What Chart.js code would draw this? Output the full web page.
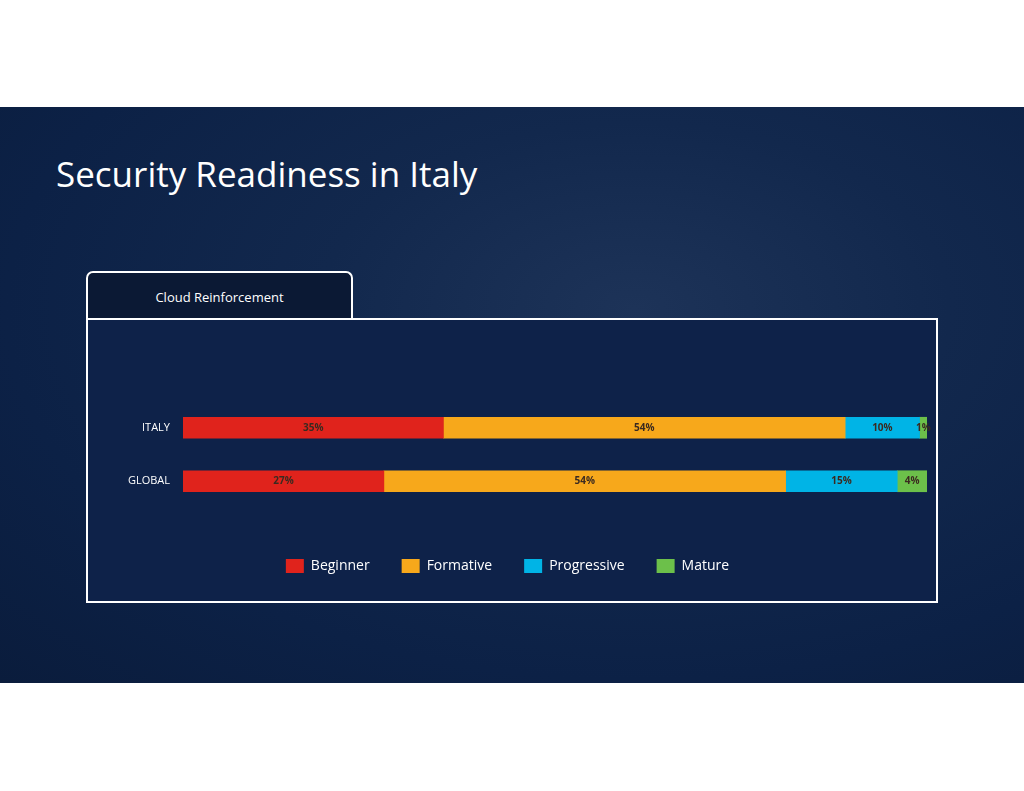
<!DOCTYPE html>
<html>
<head>
<meta charset="utf-8">
<script src="https://cdn.jsdelivr.net/npm/chart.js@4/dist/chart.umd.min.js"></script>
<style>
  body { margin: 0; width: 1024px; height: 791px; background: #fff; position: relative; overflow: hidden; font-family: "Open Sans", "Noto Sans", sans-serif; }
  .band { position: absolute; left: 0; top: 107px; width: 1024px; height: 576px;
    background: radial-gradient(ellipse at 62% 35%, #1d3358 0%, #12284d 35%, #0c2146 70%, #0a1c3c 100%); }
  .title { position: absolute; left: 56px; top: 150px; color: #fff; font-size: 35px; }
  .tab { position: absolute; left: 86px; top: 271px; width: 263px; height: 46px; border: 2px solid #fff; border-bottom: none;
    border-radius: 7px 7px 0 0; background: #0b1934; color: #fff; font-size: 13px; text-align: center; line-height: 48px; }
  .panel { position: absolute; left: 86px; top: 318px; width: 848px; height: 281px; border: 2px solid #fff; background: #0e2249; }
  canvas { position: absolute; left: 0; top: 0; }
</style>
</head>
<body>
<div class="band"></div>
<div class="title">Security Readiness in Italy</div>
<div class="tab">Cloud Reinforcement</div>
<div class="panel"><canvas id="c" width="848" height="281"></canvas></div>
<script>
const regions = ['ITALY', 'GLOBAL'];
const seriesNames = ['Beginner', 'Formative', 'Progressive', 'Mature'];
const beginner = [35, 27];
const formative = [54, 54];
const progressive = [10, 15];
const mature = [1, 4];
const colors = ['#e0231c', '#f7a81b', '#00b4e6', '#6cc04a'];

// draws the percent in the middle of each segment
const segmentLabels = {
  id: 'segmentLabels',
  afterDatasetsDraw(chart) {
    const ctx = chart.ctx;
    ctx.save();
    ctx.font = 'bold 10px "Open Sans", sans-serif';
    ctx.fillStyle = '#3b2a20';
    ctx.textAlign = 'center';
    ctx.textBaseline = 'middle';
    chart.data.datasets.forEach((ds, i) => {
      chart.getDatasetMeta(i).data.forEach((bar, j) => {
        const x = (bar.x + bar.base) / 2;
        ctx.fillText(ds.data[j] + '%', x, bar.y);
      });
    });
    ctx.restore();
  }
};

const values = [beginner, formative, progressive, mature];
new Chart(document.getElementById('c'), {
  type: 'bar',
  data: {
    labels: regions,
    datasets: seriesNames.map((n, i) => ({
      label: n, data: values[i], backgroundColor: colors[i], barThickness: 21
    }))
  },
  options: {
    indexAxis: 'y',
    responsive: false,
    animation: false,
    layout: { padding: { top: 81, right: 9, bottom: 18, left: 0 } },
    scales: {
      x: {
        stacked: true, min: 0, max: 100,
        ticks: { display: false }, grid: { display: false }, border: { display: false },
        afterFit(s) { s.height = 19; }
      },
      y: {
        stacked: true,
        grid: { display: false },
        border: { display: false },
        ticks: { color: '#fff', font: { size: 11, family: '"Open Sans", sans-serif' }, padding: 5 },
        afterFit(s) { s.width = 95; }
      }
    },
    plugins: {
      tooltip: { enabled: false },
      legend: {
        position: 'bottom',
        labels: {
          color: '#fff', boxWidth: 18, boxHeight: 14, padding: 32,
          font: { size: 14, family: '"Open Sans", sans-serif' }
        }
      }
    }
  },
  plugins: [segmentLabels]
});
</script>
</body>
</html>
